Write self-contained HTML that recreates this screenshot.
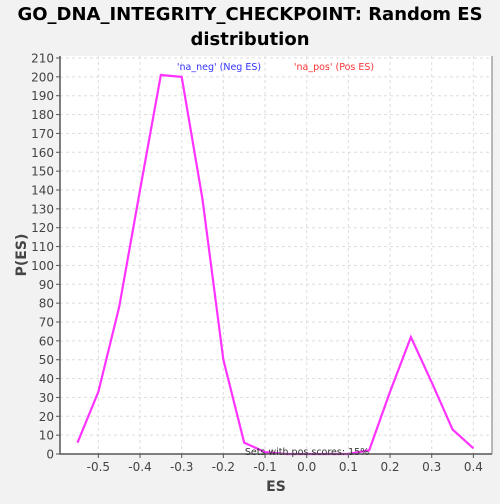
<!DOCTYPE html>
<html><head><meta charset="utf-8"><style>
body{margin:0;background:#f2f2f2;width:500px;height:500px;overflow:hidden;font-family:"DejaVu Sans","Liberation Sans",sans-serif}
svg text{font-family:"DejaVu Sans","Liberation Sans",sans-serif}
</style></head><body>
<svg id="c" width="500" height="500" xmlns="http://www.w3.org/2000/svg">
<rect width="500" height="500" fill="#f2f2f2"/>
<text x="250" y="20" text-anchor="middle" font-size="18" font-weight="bold" fill="#000">GO_DNA_INTEGRITY_CHECKPOINT: Random ES</text>
<text x="250" y="45" text-anchor="middle" font-size="18" font-weight="bold" fill="#000">distribution</text>
<rect x="60" y="56" width="432" height="398" fill="#fff"/>
<g id="grid"></g>
<g id="ticks"></g>
<polyline id="line" fill="none" stroke="#ff33ff" stroke-width="2.2"/>
<path d="M60 56 V454 H492" fill="none" stroke="#555" stroke-width="1.5"/>
<path d="M492 56 V454" fill="none" stroke="#777" stroke-width="1"/>
<text x="219" y="70" text-anchor="middle" font-size="9.5" fill="#3333ff">'na_neg' (Neg ES)</text>
<text x="334" y="70" text-anchor="middle" font-size="9.5" fill="#ff3333">'na_pos' (Pos ES)</text>
<text x="307" y="455" text-anchor="middle" font-size="9.5" fill="#333">Sets with pos scores: 15%</text>
<text x="276" y="491" text-anchor="middle" font-size="14" font-weight="bold" fill="#444">ES</text>
<text transform="translate(26,255) rotate(-90)" text-anchor="middle" font-size="14" font-weight="bold" fill="#444">P(ES)</text>
</svg>
<script>
const xs=[-0.55,-0.5,-0.45,-0.4,-0.35,-0.3,-0.25,-0.2,-0.15,-0.1,-0.05,0,0.05,0.1,0.15,0.2,0.25,0.3,0.35,0.4];
const ys=[6,33,78,140,201,200,135,50,6,1,0,0,0,0,2,33,62,38,13,3];
const xTicks=[-0.5,-0.4,-0.3,-0.2,-0.1,0.0,0.1,0.2,0.3,0.4];
const yTicks=[0,10,20,30,40,50,60,70,80,90,100,110,120,130,140,150,160,170,180,190,200,210];
const NS="http://www.w3.org/2000/svg";
function X(v){return 306.7+v*416.7;}
function Y(v){return 454-v*396/210;}
const grid=document.getElementById('grid'),ticks=document.getElementById('ticks');
function mk(tag,attrs,parent,txt){const e=document.createElementNS(NS,tag);for(const k in attrs)e.setAttribute(k,attrs[k]);if(txt!==undefined)e.textContent=txt;parent.appendChild(e);return e;}
xTicks.forEach(t=>{
  const g=mk('line',{x1:X(t),x2:X(t),y1:56,y2:454,stroke:'#ddd','stroke-dasharray':'3,3'},grid);
  
  
  mk('line',{x1:X(t),x2:X(t),y1:454,y2:458,stroke:'#555'},ticks);
  const l=mk('text',{x:X(t),y:471,'text-anchor':'middle','font-size':'12',fill:'#444'},ticks,t.toFixed(1));
  
  
});
yTicks.forEach(t=>{
  const g=mk('line',{x1:60,x2:492,y1:Y(t),y2:Y(t),stroke:'#ddd','stroke-dasharray':'3,3'},grid);
  
  
  mk('line',{x1:56,x2:60,y1:Y(t),y2:Y(t),stroke:'#555'},ticks);
  const l=mk('text',{x:54,y:Y(t)+4.5,'text-anchor':'end','font-size':'12',fill:'#444'},ticks,String(t));
  
  
});
document.getElementById('line').setAttribute('points',xs.map((x,i)=>X(x)+','+Y(ys[i])).join(' '));
</script>
</body></html>
